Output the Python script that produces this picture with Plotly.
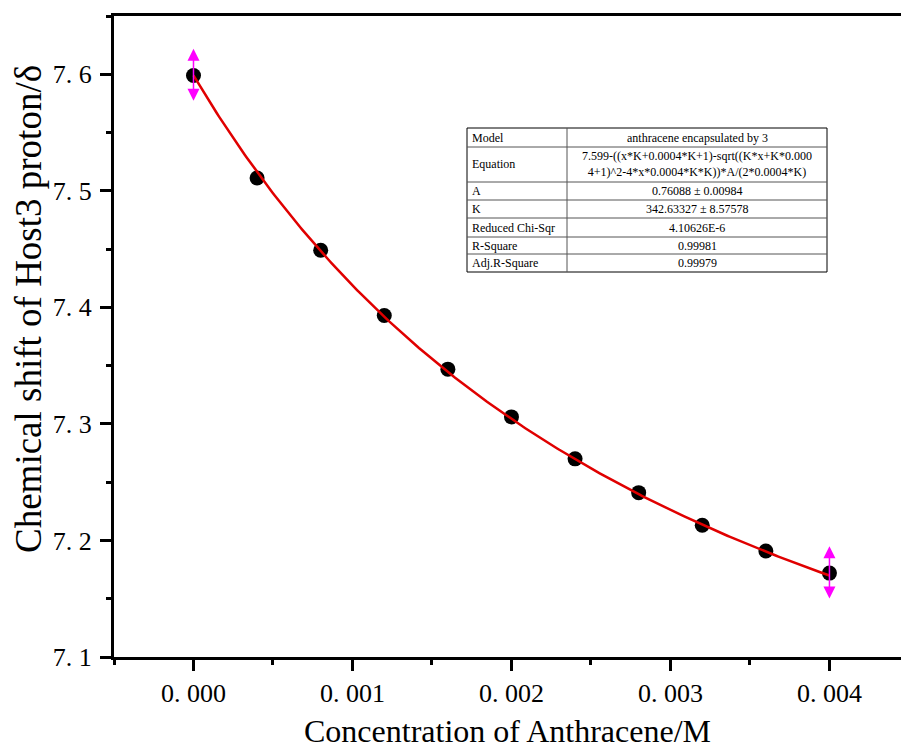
import numpy as np
import plotly.graph_objects as go

# Titration data: guest concentration (M) vs. observed chemical shift (ppm)
conc = [0.0, 0.0004, 0.0008, 0.0012, 0.0016, 0.0020, 0.0024, 0.0028, 0.0032, 0.0036, 0.0040]
shift = [7.599, 7.511, 7.449, 7.393, 7.347, 7.306, 7.270, 7.241, 7.213, 7.191, 7.172]

# Fitted 1:1 binding parameters
fit_A = 0.76088
fit_K = 342.63327
host_conc = 0.0004
delta0 = 7.599

# Vertical markers (half-height) on the first and last points
cursor_half = [0.023, 0.023]

y_tick_vals = [7.1, 7.2, 7.3, 7.4, 7.5, 7.6]
y_tick_text = ["7. 1", "7. 2", "7. 3", "7. 4", "7. 5", "7. 6"]
x_tick_vals = [0.000, 0.001, 0.002, 0.003, 0.004]
x_tick_text = ["0. 000", "0. 001", "0. 002", "0. 003", "0. 004"]

table_rows = [
    ("Model", "anthracene encapsulated by 3"),
    ("Equation", "7.599-((x*K+0.0004*K+1)-sqrt((K*x+K*0.000<br>4+1)^2-4*x*0.0004*K*K))*A/(2*0.0004*K)"),
    ("A", "0.76088 ± 0.00984"),
    ("K", "342.63327 ± 8.57578"),
    ("Reduced Chi-Sqr", "4.10626E-6"),
    ("R-Square", "0.99981"),
    ("Adj.R-Square", "0.99979"),
]

W, H = 901, 749
ML, MR, MT, MB = 114, 0, 16, 92
PW, PH = W - ML - MR, H - MT - MB

SERIF = "Times New Roman, Liberation Serif, serif"


def px(x):
    return (x - ML) / PW


def py(y):
    return (H - MB - y) / PH


xfit = np.linspace(0, 0.004, 300)
b = fit_K * xfit + fit_K * host_conc + 1
yfit = delta0 - (b - np.sqrt(b ** 2 - 4 * xfit * host_conc * fit_K * fit_K)) * fit_A / (2 * host_conc * fit_K)

fig = go.Figure()
fig.add_trace(go.Scatter(x=conc, y=shift, mode="markers",
                         marker=dict(color="black", size=15, line=dict(width=0)),
                         showlegend=False))
fig.add_trace(go.Scatter(x=xfit, y=yfit, mode="lines",
                         line=dict(color="#e00000", width=2.5), showlegend=False))

annotations = []
for idx, half in zip([0, len(conc) - 1], cursor_half):
    annotations.append(dict(
        x=conc[idx], y=shift[idx] + half, ax=conc[idx], ay=shift[idx] - half,
        xref="x", yref="y", axref="x", ayref="y", text="", showarrow=True,
        arrowside="end+start", arrowhead=2, startarrowhead=2,
        arrowsize=1.6, startarrowsize=1.6, arrowwidth=1.5, arrowcolor="#ff00ff"))

# Parameter table drawn with shapes and text
tx0, tx1, tx_mid = 467, 827, 567
row_edges = [128, 147, 182, 200, 218, 237, 254, 272]
shapes = [dict(type="rect", xref="paper", yref="paper", x0=px(tx0), x1=px(tx1),
               y0=py(row_edges[-1]), y1=py(row_edges[0]),
               line=dict(color="black", width=1), fillcolor="white", layer="above")]
shapes.append(dict(type="line", xref="paper", yref="paper", x0=px(tx_mid), x1=px(tx_mid),
                   y0=py(row_edges[-1]), y1=py(row_edges[0]),
                   line=dict(color="#555555", width=1), layer="above"))
for ye in row_edges[1:-1]:
    shapes.append(dict(type="line", xref="paper", yref="paper", x0=px(tx0), x1=px(tx1),
                       y0=py(ye), y1=py(ye), line=dict(color="#555555", width=1), layer="above"))

tfont = dict(family=SERIF, size=12, color="black")
for (name, val), top, bot in zip(table_rows, row_edges[:-1], row_edges[1:]):
    yc = py((top + bot) / 2)
    annotations.append(dict(x=px(tx0 + 3), y=yc, xref="paper", yref="paper", text=name,
                            showarrow=False, xanchor="left", yanchor="middle", font=tfont))
    annotations.append(dict(x=px((tx_mid + tx1) / 2), y=yc, xref="paper", yref="paper", text=val,
                            showarrow=False, xanchor="center", yanchor="middle", font=tfont,
                            align="center"))

# Y-axis title, placed slightly above the plot's vertical centre
annotations.append(dict(x=px(29), y=py(309), xref="paper", yref="paper",
                        text="Chemical shift of Host3 proton/δ", textangle=-90,
                        showarrow=False, xanchor="center", yanchor="middle",
                        font=dict(family=SERIF, size=37, color="black")))

axis_font = dict(family=SERIF, size=26, color="black")

fig.update_layout(
    width=W, height=H, margin=dict(l=ML, r=MR, t=MT, b=MB),
    paper_bgcolor="white", plot_bgcolor="white",
    font=dict(family=SERIF, color="black"),
    shapes=shapes, annotations=annotations,
    xaxis=dict(range=[-0.0005, -0.0005 + 0.004950], showgrid=False, zeroline=False,
               showline=True, linecolor="black", linewidth=3, mirror=True,
               ticks="outside", ticklen=11, tickwidth=3, tickcolor="black",
               tickvals=x_tick_vals, ticktext=x_tick_text, tickfont=axis_font,
               minor=dict(ticks="outside", ticklen=5, tickwidth=3, tickcolor="black", dtick=0.0005,
                          tick0=0, showgrid=False),
               title=dict(text="Concentration of Anthracene/M",
                          font=dict(family=SERIF, size=32, color="black"), standoff=13)),
    yaxis=dict(range=[7.1, 7.65], showgrid=False, zeroline=False,
               showline=True, linecolor="black", linewidth=3, mirror=False,
               ticks="outside", ticklen=11, tickwidth=3, tickcolor="black",
               ticklabelstandoff=3,
               tickvals=y_tick_vals, ticktext=y_tick_text, tickfont=axis_font,
               minor=dict(ticks="outside", ticklen=5, tickwidth=3, tickcolor="black", dtick=0.05,
                          tick0=7.1, showgrid=False)),
)

fig.write_html("out.html")
